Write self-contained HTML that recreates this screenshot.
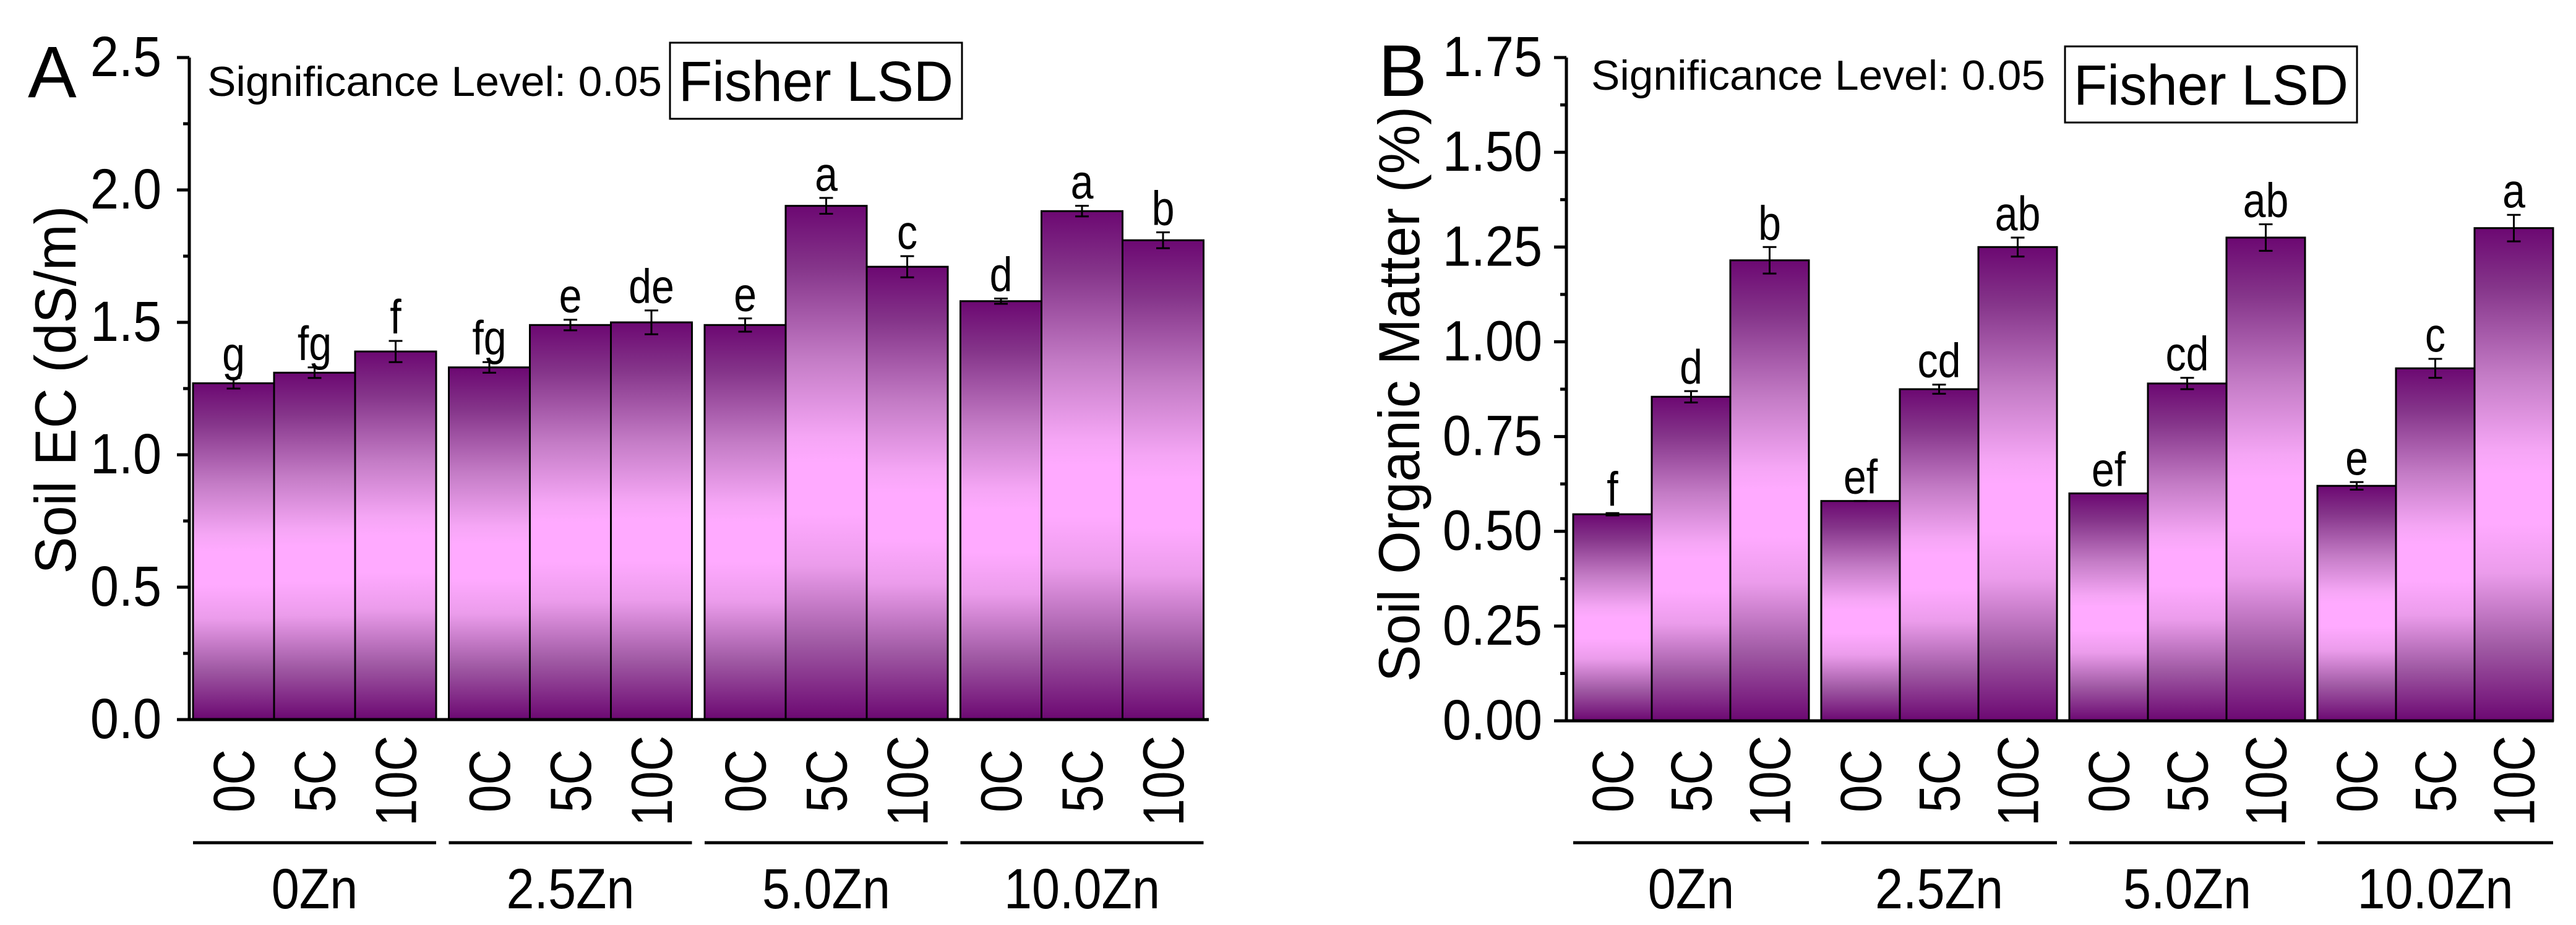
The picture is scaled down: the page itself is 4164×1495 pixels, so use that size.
<!DOCTYPE html>
<html><head><meta charset="utf-8"><style>
html,body{margin:0;padding:0;background:#fff}
svg{display:block}
text{font-family:"Liberation Sans",Arial,sans-serif;fill:#000}
</style></head><body>
<svg id="fig" width="4164" height="1495" viewBox="0 0 4164 1495" xmlns="http://www.w3.org/2000/svg">
<defs>
<linearGradient id="barGrad" x1="0" y1="0" x2="0" y2="1">
<stop offset="0" stop-color="#6c0872"/>
<stop offset="0.12" stop-color="#85358a"/>
<stop offset="0.3" stop-color="#c47cc6"/>
<stop offset="0.45" stop-color="#f5a6f5"/>
<stop offset="0.5" stop-color="#ffaaff"/>
<stop offset="0.6" stop-color="#ffaaff"/>
<stop offset="0.7" stop-color="#eb9ceb"/>
<stop offset="0.85" stop-color="#a05aa4"/>
<stop offset="1" stop-color="#6c0872"/>
</linearGradient>
</defs>
</svg>
<script>
const groups = ["0Zn","2.5Zn","5.0Zn","10.0Zn"];
const cats = ["0C","5C","10C"];
const ecValues = [1.27,1.31,1.39, 1.33,1.49,1.50, 1.49,1.94,1.71, 1.58,1.92,1.81];
const ecErrors = [0.02,0.02,0.04, 0.02,0.02,0.045, 0.025,0.03,0.04, 0.01,0.02,0.03];
const ecLetters = ["g","fg","f","fg","e","de","e","a","c","d","a","b"];
const ecTicks = ["0.0","0.5","1.0","1.5","2.0","2.5"];
const omValues = [0.545,0.855,1.215, 0.58,0.875,1.25, 0.60,0.89,1.275, 0.62,0.93,1.30];
const omErrors = [0.003,0.015,0.035, 0.0,0.012,0.025, 0.0,0.015,0.035, 0.01,0.025,0.035];
const omLetters = ["f","d","b","ef","cd","ab","ef","cd","ab","e","c","a"];
const omTicks = ["0.00","0.25","0.50","0.75","1.00","1.25","1.50","1.75"];

const NS="http://www.w3.org/2000/svg";
const svg=document.getElementById('fig');
function mk(tag,attrs,parent,txt){const e=document.createElementNS(NS,tag);for(const k in attrs)e.setAttribute(k,attrs[k]);if(txt!==undefined)e.textContent=txt;(parent||svg).appendChild(e);return e;}

function panel(cfg){
  const g=mk('g',{});
  
  
  const tickVals=cfg.ticks.map(Number);
  const ymax=tickVals[tickVals.length-1];
  const y=v=>cfg.y0-(v/ymax)*(cfg.y0-cfg.yTop);
  const step=tickVals[1]-tickVals[0];
  cfg.values.forEach((v,i)=>{
    const gi=Math.floor(i/3), ci=i%3;
    const x=cfg.bx0+gi*cfg.pitch+ci*cfg.bw;
    const r=mk('rect',{x:x,y:y(v),width:cfg.bw,height:cfg.y0-y(v),fill:'url(#barGrad)',stroke:'#000','stroke-width':3},g);
    
    
    const cx=x+cfg.bw/2, e=cfg.errors[i];
    const eb=mk('path',{d:`M${cx},${y(v+e)}V${y(v-e)}M${cx-11},${y(v+e)}H${cx+11}M${cx-11},${y(v-e)}H${cx+11}`,stroke:'#000','stroke-width':3,fill:'none'},g);
    
    
    const t=mk('text',{x:0,y:0,'text-anchor':'middle','font-size':78,transform:`translate(${cx},${y(v+e)-12}) scale(0.85,1)`},g,cfg.letters[i]);
    
    
    const cl=mk('text',{x:0,y:0,'text-anchor':'middle','font-size':94,transform:`translate(${cx+33},1262) rotate(-90) scale(0.85,1)`},g,cats[ci]);
    
    
  });
  groups.forEach((nm,gi)=>{
    const x=cfg.bx0+gi*cfg.pitch;
    const l=mk('line',{x1:x,x2:x+3*cfg.bw,y1:1362,y2:1362,stroke:'#000','stroke-width':5},g);
    
    
    const t=mk('text',{x:0,y:0,'text-anchor':'middle','font-size':92,transform:`translate(${x+1.5*cfg.bw},1468) scale(0.88,1)`},g,nm);
    
    
  });
  const ax=mk('path',{d:`M${cfg.ax},${cfg.yTop}V${cfg.y0}H${cfg.axEnd}`,stroke:'#000','stroke-width':5,fill:'none'},g);
  
  
  cfg.ticks.forEach((lab,k)=>{
    const v=tickVals[k], ty=y(v);
    const tk=mk('line',{x1:cfg.ax-20,x2:cfg.ax,y1:ty,y2:ty,stroke:'#000','stroke-width':5},g);
    
    
    if(k<cfg.ticks.length-1){
      const my=y(v+step/2);
      const mt=mk('line',{x1:cfg.ax-10,x2:cfg.ax,y1:my,y2:my,stroke:'#000','stroke-width':5},g);
      
      
    }
    const t=mk('text',{x:0,y:0,'text-anchor':'end','font-size':92,transform:`translate(${cfg.labRight},${ty+30}) scale(0.9,1)`},g,lab);
    
    
  });
  const yt=mk('text',{x:0,y:0,'text-anchor':'middle','font-size':94,textLength:cfg.titleLen,lengthAdjust:'spacingAndGlyphs',transform:`translate(${cfg.titleX},${cfg.titleY}) rotate(-90)`},g,cfg.title);
  
  
  const pl=mk('text',{x:cfg.letterX,y:cfg.letterY,'font-size':118},g,cfg.letter);
  
  
  const sg=mk('text',{x:cfg.sigX,y:cfg.sigY,'font-size':68,textLength:cfg.sigW,lengthAdjust:'spacingAndGlyphs'},g,'Significance Level: 0.05');
  
  
  const bx=mk('rect',{x:cfg.boxX,y:cfg.boxY,width:472,height:123,fill:'#fff',stroke:'#000','stroke-width':3},g);
  
  
  const bt=mk('text',{x:cfg.boxX+14,y:cfg.boxY+94,'font-size':92,textLength:444,lengthAdjust:'spacingAndGlyphs'},g,'Fisher LSD');
  
  
}

panel({name:'panel-a-soil-ec',values:ecValues,errors:ecErrors,letters:ecLetters,ticks:ecTicks,
  y0:1163,yTop:93,ax:306,axEnd:1954,bx0:312,bw:131,pitch:413.5,labRight:261,
  title:'Soil EC (dS/m)',titleLen:595,titleX:122,titleY:630,letter:'A',letterX:45,letterY:157,
  sigX:335,sigY:155,sigW:735,boxX:1083,boxY:69});
panel({name:'panel-b-soil-organic-matter',values:omValues,errors:omErrors,letters:omLetters,ticks:omTicks,
  y0:1165,yTop:93,ax:2532,axEnd:4128,bx0:2543,bw:127,pitch:401,labRight:2493,
  title:'Soil Organic Matter (%)',titleLen:930,titleX:2294,titleY:637,letter:'B',letterX:2228,letterY:155,
  sigX:2572,sigY:145,sigW:734,boxX:3338,boxY:75});
</script>
</body></html>
